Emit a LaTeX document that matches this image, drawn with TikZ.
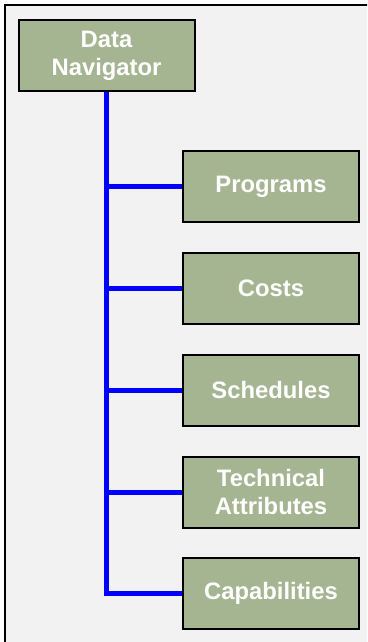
\documentclass[tikz,border=0pt]{standalone}
\usepackage{fontspec}
\setmainfont{Liberation Sans}
\usepackage{xcolor}

\definecolor{boxgreen}{RGB}{165,181,146}
\definecolor{panelgray}{RGB}{242,242,242}

\begin{document}
\begin{tikzpicture}[
            x = 1pt, y = -1pt, % pixel-like units
            item/.style = {shape=rectangle, draw=black, line width=2pt,
                fill=boxgreen, text=white, font=\bfseries\fontsize{23.8}{28}\selectfont,
                align=center, minimum width=176pt, minimum height=71pt,
                inner sep=0pt},
            bus/.style = {draw=blue, line width=5pt} % connector style
        ]
\useasboundingbox (0,0) rectangle (367,642);
\clip (0,0) rectangle (367,642);
\draw[fill=panelgray, line width=2pt] (5,5) rectangle (380,660);

\node[item] (nav) at (106.5,55.5) {Data\\Navigator};
\node[item] (prog) at (271,186.5) {Programs};
\node[item] (cost) at (271,288.5) {Costs};
\node[item] (sched) at (271,390) {Schedules};
\node[item] (tech) at (271,492) {Technical\\Attributes};
\node[item] (capa) at (271,593.5) {Capabilities};

 \path [bus] (nav.south) |- (capa.west);
 \path [bus] (nav.south) |- (prog.west);
 \path [bus] (nav.south) |- (cost.west);
 \path [bus] (nav.south) |- (sched.west);
 \path [bus] (nav.south) |- (tech.west);

\end{tikzpicture}
\end{document}
